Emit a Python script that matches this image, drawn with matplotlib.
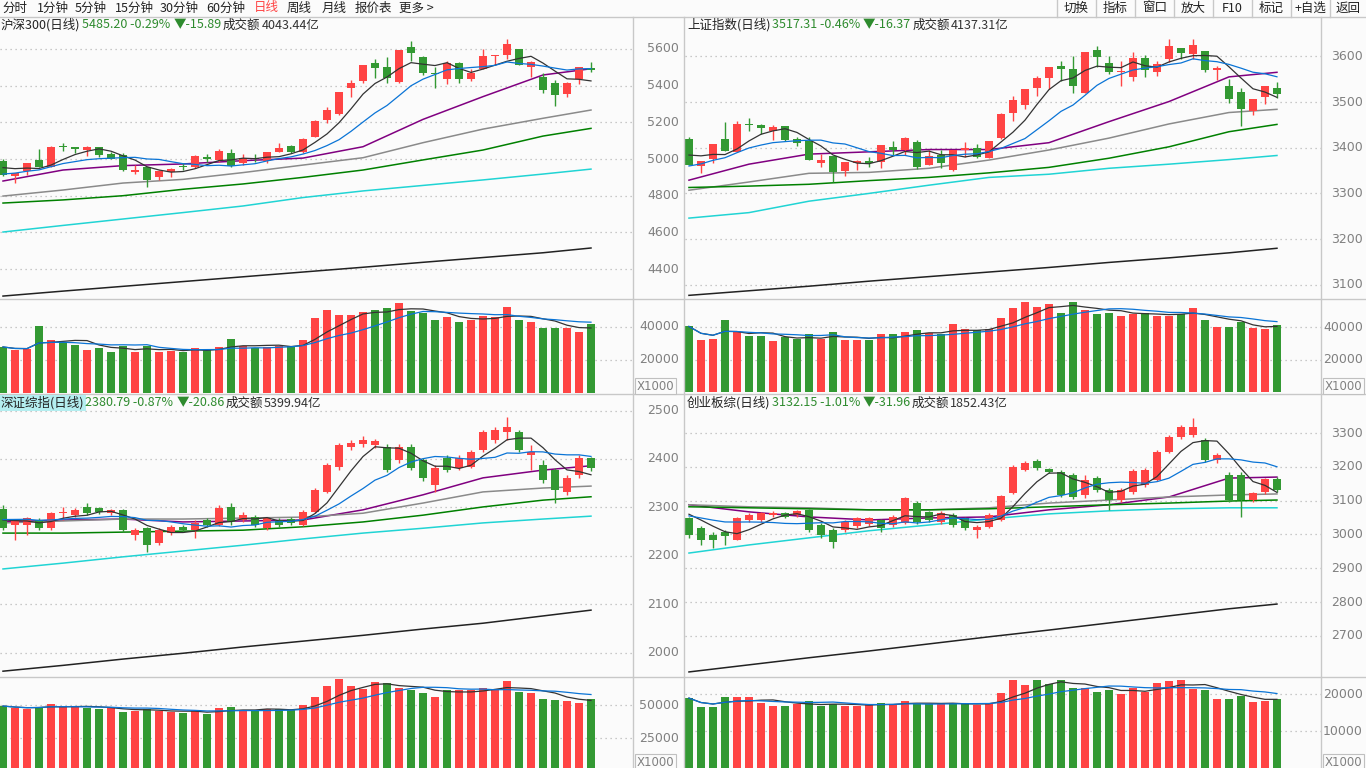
import matplotlib
matplotlib.use("Agg")
import matplotlib.pyplot as plt
import numpy as np
import pandas as pd

plt.rcParams['font.family'] = ['Noto Sans CJK SC', 'DejaVu Sans']

W, H = 1366, 768
RED = '#ff4444'
GREEN = '#339933'
VALG = '#2e8b2e'
GRID = '#b8b8b8'
TICK = '#808080'
LINE = '#c8c8c8'
MA_COLORS = {'ma5': '#333333', 'ma10': '#0a74d6', 'ma20': '#800080', 'ma30': '#8a8a8a',
             'ma60': '#008000', 'ma120': '#20d4d4', 'ma250': '#222222'}

MA_IDX = [0, 5, 10, 15, 20, 25, 30, 35, 40, 45, 49]

# ---------------- data: 沪深300 ----------------
hs_open = [4989, 4909, 4936, 4995, 4958, 5068, 5067, 5049, 5063, 5027, 5020, 4929, 4956, 4904, 4929,
           4960, 4958, 5013, 4995, 5031, 4976, 5005, 4991, 5040, 5071, 5040, 5122, 5213, 5245, 5389,
           5425, 5523, 5501, 5420, 5612, 5556, 5470, 5438, 5521, 5438, 5492, 5561, 5565, 5598, 5503,
           5447, 5416, 5352, 5434, 5496]
hs_high = [5000, 4925, 4980, 5054, 5071, 5085, 5067, 5071, 5067, 5038, 5031, 4967, 4958, 4940, 4953,
           4976, 5022, 5027, 5052, 5054, 5027, 5029, 5040, 5085, 5076, 5113, 5213, 5285, 5365, 5431,
           5512, 5545, 5554, 5594, 5643, 5563, 5503, 5536, 5529, 5490, 5598, 5568, 5652, 5598, 5532,
           5467, 5431, 5422, 5501, 5529]
hs_low = [4909, 4867, 4913, 4958, 4958, 5045, 5035, 5016, 5013, 4998, 4936, 4918, 4849, 4886, 4904,
          4940, 4949, 4985, 4985, 4958, 4967, 4982, 4976, 5040, 5035, 5035, 5122, 5195, 5240, 5340,
          5416, 5443, 5413, 5416, 5536, 5460, 5389, 5407, 5416, 5427, 5489, 5514, 5547, 5510, 5449,
          5362, 5289, 5340, 5407, 5474]
hs_close = [4913, 4922, 4976, 4958, 5065, 5066, 5056, 5067, 5022, 5002, 4940, 4940, 4886, 4933, 4944,
            4956, 5016, 4998, 5045, 4960, 5004, 5002, 5038, 5060, 5038, 5109, 5209, 5267, 5365, 5416,
            5512, 5498, 5443, 5594, 5579, 5470, 5461, 5521, 5438, 5470, 5561, 5568, 5627, 5514, 5529,
            5376, 5350, 5416, 5501, 5485]
hs_pre_close = [4870, 4875, 4885, 4890, 4895, 4950, 4960, 4970, 4972]
hs_vol = [27900, 26100, 26700, 40600, 32100, 30900, 29100, 26100, 27300, 24800, 28500, 24800, 28500,
          24800, 25500, 24800, 27300, 26700, 27900, 32700, 28500, 27300, 27900, 28500, 28500, 32100,
          45500, 50300, 47300, 47300, 49100, 50300, 51500, 54500, 49700, 48500, 44200, 46100, 43000,
          44200, 46700, 46100, 52100, 44200, 43000, 39400, 39400, 39400, 37000, 41800]
hs_ma20 = [4880, 4940, 4964, 4973, 4991, 5005, 5067, 5216, 5340, 5458, 5492]
hs_ma30 = [4798, 4831, 4869, 4889, 4926, 4967, 5007, 5089, 5163, 5222, 5267]
hs_ma60 = [4760, 4777, 4800, 4835, 4864, 4900, 4940, 4995, 5049, 5125, 5167]
hs_ma120 = [4602, 4638, 4673, 4708, 4744, 4790, 4826, 4856, 4886, 4918, 4945]
hs_ma250 = [4253, 4280, 4306, 4332, 4358, 4384, 4410, 4437, 4463, 4489, 4515]

# ---------------- data: 上证指数 ----------------
sh_open = [3419, 3360, 3376, 3419, 3391, 3452, 3450, 3437, 3447, 3419, 3415, 3367, 3382, 3350, 3366,
           3371, 3369, 3402, 3396, 3412, 3362, 3384, 3351, 3396, 3399, 3378, 3422, 3477, 3493, 3531,
           3553, 3579, 3572, 3520, 3614, 3585, 3565, 3555, 3596, 3566, 3594, 3618, 3605, 3612, 3569,
           3535, 3522, 3480, 3512, 3531]
sh_high = [3423, 3371, 3408, 3456, 3458, 3466, 3451, 3450, 3448, 3424, 3423, 3386, 3382, 3369, 3373,
           3380, 3406, 3415, 3424, 3416, 3395, 3395, 3396, 3413, 3408, 3415, 3477, 3513, 3528, 3557,
           3577, 3589, 3600, 3610, 3623, 3600, 3590, 3610, 3603, 3590, 3638, 3618, 3638, 3612, 3579,
           3550, 3531, 3507, 3536, 3544]
sh_low = [3362, 3345, 3366, 3393, 3390, 3437, 3431, 3417, 3415, 3404, 3373, 3358, 3325, 3339, 3351,
          3358, 3356, 3384, 3384, 3354, 3362, 3356, 3349, 3379, 3378, 3378, 3420, 3459, 3485, 3514,
          3528, 3547, 3519, 3519, 3576, 3562, 3535, 3546, 3555, 3557, 3588, 3594, 3594, 3566, 3548,
          3498, 3447, 3472, 3496, 3508]
sh_close = [3362, 3371, 3408, 3393, 3452, 3450, 3444, 3445, 3417, 3411, 3373, 3373, 3347, 3369, 3370,
            3366, 3406, 3396, 3421, 3358, 3382, 3366, 3396, 3397, 3380, 3415, 3474, 3504, 3528, 3552,
            3577, 3572, 3534, 3610, 3599, 3566, 3567, 3596, 3569, 3583, 3623, 3607, 3625, 3571, 3575,
            3507, 3485, 3507, 3535, 3517]
sh_pre_close = [3325, 3330, 3336, 3342, 3347, 3380, 3392, 3395, 3391]
sh_vol = [40600, 32100, 32700, 44800, 37000, 34500, 34500, 31500, 33900, 32700, 35800, 32700, 37000,
          32100, 32100, 32100, 35800, 35800, 37000, 38200, 36400, 35800, 41800, 38800, 38200, 38800,
          46100, 52100, 55800, 52700, 54500, 49100, 55800, 50900, 48500, 49100, 47300, 48500, 49100,
          47300, 47300, 48500, 52100, 44800, 40000, 40000, 43600, 39400, 38800, 41200]
sh_ma20 = [3329, 3364, 3386, 3391, 3396, 3396, 3411, 3457, 3501, 3555, 3565]
sh_ma30 = [3307, 3325, 3344, 3346, 3355, 3373, 3395, 3421, 3452, 3477, 3484]
sh_ma60 = [3313, 3316, 3320, 3328, 3335, 3345, 3357, 3377, 3402, 3435, 3451]
sh_ma120 = [3246, 3258, 3283, 3300, 3318, 3335, 3342, 3355, 3364, 3374, 3383]
sh_ma250 = [3077, 3087, 3097, 3108, 3118, 3128, 3138, 3149, 3159, 3170, 3180]

# ---------------- data: 深证综指 ----------------
sz_open = [2297, 2264, 2264, 2274, 2257, 2288, 2284, 2301, 2299, 2288, 2295, 2243, 2257, 2226, 2247,
           2260, 2253, 2274, 2264, 2301, 2274, 2280, 2257, 2274, 2276, 2264, 2291, 2332, 2383, 2425,
           2431, 2429, 2425, 2398, 2425, 2398, 2346, 2402, 2381, 2383, 2419, 2439, 2456, 2456, 2408,
           2388, 2377, 2332, 2366, 2402]
sz_high = [2305, 2276, 2280, 2278, 2291, 2301, 2299, 2309, 2301, 2297, 2297, 2257, 2260, 2257, 2264,
           2264, 2274, 2278, 2305, 2309, 2290, 2284, 2280, 2278, 2280, 2295, 2340, 2392, 2433, 2439,
           2448, 2441, 2431, 2431, 2431, 2402, 2388, 2408, 2408, 2419, 2460, 2466, 2487, 2460, 2429,
           2398, 2381, 2366, 2408, 2404]
sz_low = [2253, 2233, 2243, 2253, 2253, 2274, 2280, 2284, 2286, 2284, 2250, 2233, 2208, 2222, 2243,
          2250, 2237, 2260, 2262, 2264, 2270, 2260, 2253, 2260, 2264, 2262, 2288, 2330, 2377, 2419,
          2425, 2423, 2373, 2392, 2377, 2355, 2332, 2373, 2377, 2381, 2414, 2433, 2439, 2414, 2377,
          2350, 2309, 2325, 2361, 2375]
sz_close = [2257, 2274, 2278, 2257, 2288, 2291, 2295, 2288, 2291, 2295, 2253, 2253, 2222, 2253, 2260,
            2253, 2268, 2264, 2299, 2270, 2284, 2264, 2278, 2264, 2268, 2291, 2336, 2388, 2429, 2433,
            2439, 2437, 2377, 2425, 2381, 2361, 2381, 2377, 2402, 2414, 2456, 2460, 2466, 2419, 2414,
            2357, 2336, 2361, 2402, 2381]
sz_pre_close = [2272, 2275, 2278, 2280, 2275, 2280, 2282, 2276, 2275]
sz_vol = [49200, 47700, 47000, 48500, 50800, 49200, 48500, 47700, 47000, 47700, 44700, 45500, 47000,
          45500, 44700, 44000, 45500, 43200, 47700, 48500, 46200, 45500, 47000, 47000, 46200, 50000,
          56100, 64400, 69700, 64400, 62100, 67400, 66700, 62900, 61400, 59100, 56100, 61400, 61400,
          61400, 62900, 62100, 68200, 59800, 59100, 54500, 53800, 53000, 51500, 54500]
sz_ma20 = [2270, 2274, 2276, 2270, 2272, 2274, 2295, 2326, 2361, 2377, 2386]
sz_ma30 = [2268, 2272, 2276, 2276, 2278, 2280, 2288, 2309, 2332, 2340, 2344]
sz_ma60 = [2247, 2247, 2249, 2251, 2253, 2260, 2270, 2284, 2301, 2315, 2322]
sz_ma120 = [2173, 2185, 2198, 2210, 2222, 2235, 2247, 2257, 2268, 2276, 2282]
sz_ma250 = [1962, 1974, 1987, 1999, 2012, 2024, 2036, 2049, 2061, 2076, 2088]

# ---------------- data: 创业板综 ----------------
cy_open = [3049, 3019, 2999, 3007, 2984, 3043, 3043, 3058, 3064, 3058, 3073, 3028, 3013, 3013, 3025,
           3031, 3043, 3028, 3034, 3093, 3067, 3037, 3058, 3049, 3013, 3022, 3043, 3123, 3191, 3218,
           3194, 3185, 3176, 3117, 3167, 3132, 3102, 3126, 3147, 3162, 3244, 3289, 3295, 3280, 3221,
           3176, 3176, 3102, 3126, 3164]
cy_high = [3052, 3025, 3007, 3013, 3052, 3064, 3067, 3070, 3067, 3073, 3076, 3034, 3019, 3043, 3052,
           3052, 3046, 3058, 3111, 3099, 3070, 3070, 3064, 3052, 3028, 3064, 3117, 3206, 3218, 3224,
           3197, 3191, 3182, 3176, 3173, 3138, 3138, 3194, 3197, 3250, 3295, 3324, 3345, 3286, 3240,
           3185, 3185, 3126, 3167, 3170]
cy_low = [2990, 2969, 2960, 2969, 2984, 3037, 3037, 3052, 3049, 3052, 3007, 2990, 2960, 3007, 3019,
          3025, 3007, 3022, 3031, 3031, 3037, 3031, 3022, 3013, 2990, 3019, 3040, 3120, 3188, 3191,
          3182, 3111, 3105, 3108, 3126, 3073, 3096, 3120, 3140, 3158, 3240, 3283, 3290, 3215, 3212,
          3096, 3052, 3096, 3120, 3126]
cy_close = [2999, 2984, 2984, 2996, 3049, 3058, 3064, 3064, 3052, 3070, 3013, 2999, 2978, 3037, 3049,
            3049, 3019, 3052, 3108, 3037, 3043, 3064, 3028, 3019, 3022, 3058, 3114, 3200, 3212, 3197,
            3185, 3117, 3111, 3162, 3132, 3102, 3132, 3188, 3191, 3244, 3289, 3318, 3318, 3221, 3236,
            3102, 3102, 3123, 3164, 3132]
cy_pre_close = [3045, 3048, 3050, 3052, 3055, 3070, 3075, 3078, 3078]
cy_vol = [18900, 16500, 16500, 19200, 19200, 19200, 17600, 16800, 16800, 17300, 18100, 16800, 17300,
          16800, 16800, 17300, 17600, 17300, 18100, 17300, 17300, 17300, 17600, 17300, 17000, 17600,
          20300, 23800, 22400, 23800, 22700, 23800, 21600, 21600, 20500, 21100, 20000, 21600, 20500,
          23000, 23500, 23800, 21400, 21100, 18700, 18700, 19500, 17800, 18100, 18700]
cy_ma20 = [3088, 3067, 3052, 3043, 3049, 3052, 3073, 3088, 3111, 3167, 3170]
cy_ma30 = [3088, 3082, 3079, 3073, 3073, 3079, 3093, 3102, 3111, 3117, 3120]
cy_ma60 = [3082, 3079, 3076, 3073, 3073, 3076, 3082, 3088, 3093, 3099, 3102]
cy_ma120 = [2945, 2969, 2990, 3011, 3028, 3046, 3061, 3070, 3076, 3079, 3079]
cy_ma250 = [2593, 2614, 2635, 2655, 2676, 2697, 2717, 2738, 2759, 2780, 2794]

# ---------------- layout helpers ----------------
fig = plt.figure(figsize=(W / 100, H / 100), dpi=100, facecolor='#fbfbfb')


def px_axes(x0, y0, x1, y1):
    ax = fig.add_axes([x0 / W, 1 - y1 / H, (x1 - x0) / W, (y1 - y0) / H])
    ax.set_facecolor('#fbfbfb')
    for s in ax.spines.values():
        s.set_visible(False)
    ax.set_xticks([])
    ax.set_yticks([])
    return ax


def fig_line(x0, y0, x1, y1, color=LINE, lw=1.0):
    fig.add_artist(plt.Line2D([x0 / W, x1 / W], [1 - y0 / H, 1 - y1 / H], color=color, lw=lw,
                              transform=fig.transFigure))


def fig_text(x, y, s, color='#333333', size=9, ha='left', **kw):
    fig.text(x / W, 1 - y / H, s, color=color, fontsize=size, ha=ha, va='center', **kw)


def rolling(vals, pre, n):
    s = pd.Series(list(pre) + list(vals), dtype=float)
    return s.rolling(n, min_periods=1).mean().to_numpy()[len(pre):]


def y_labels(ax, ticks, right_px, width_px):
    for t in ticks:
        ax.axhline(t, color=GRID, lw=0.9, ls=(0, (1, 3)), zorder=0)
        ax.text(1 + right_px / width_px, t, str(t), transform=ax.get_yaxis_transform(),
                ha='right', va='center', color=TICK, fontsize=9, family='DejaVu Sans', clip_on=False)


def price_panel(ax, o, h, l, c, pre, mas, ticks, ylim, xlim, right_px, width_px):
    x = np.arange(len(o))
    o, h, l, c = map(np.asarray, (o, h, l, c))
    col = np.where(c >= o, RED, GREEN)
    ax.vlines(x, l, h, colors=col, lw=1.0, zorder=3)
    span = ylim[1] - ylim[0]
    body = np.maximum(np.abs(c - o), span * 0.004)
    ax.bar(x, body, bottom=np.minimum(o, c), width=0.64, color=col, lw=0, zorder=3)
    ax.plot(x, rolling(c, pre, 5), color=MA_COLORS['ma5'], lw=0.9, zorder=4)
    ax.plot(x, rolling(c, pre, 10), color=MA_COLORS['ma10'], lw=0.9, zorder=4)
    for key, vals in mas.items():
        ax.plot(MA_IDX, vals, color=MA_COLORS[key], lw=1.1, zorder=2)
    ax.set_xlim(*xlim)
    ax.set_ylim(*ylim)
    y_labels(ax, ticks, right_px, width_px)


def vol_panel(ax, o, c, v, ticks, ylim, xlim, right_px, width_px):
    x = np.arange(len(v))
    col = np.where(np.asarray(c) >= np.asarray(o), RED, GREEN)
    ax.bar(x, v, width=0.64, color=col, lw=0, zorder=3)
    ax.plot(x, rolling(v, [], 5), color='#333333', lw=0.9, zorder=4)
    ax.plot(x, rolling(v, [], 10), color=MA_COLORS['ma10'], lw=0.9, zorder=4)
    ax.set_xlim(*xlim)
    ax.set_ylim(*ylim)
    y_labels(ax, ticks, right_px, width_px)


# ---------------- panels ----------------
LX = (-0.25, 52.5)
RX = (-0.33, 52.67)

ax = px_axes(0, 17, 633, 299)
price_panel(ax, hs_open, hs_high, hs_low, hs_close, hs_pre_close,
            {'ma20': hs_ma20, 'ma30': hs_ma30, 'ma60': hs_ma60, 'ma120': hs_ma120, 'ma250': hs_ma250},
            [4400, 4600, 4800, 5000, 5200, 5400, 5600], (4237, 5774), LX, 46, 633)
ax = px_axes(0, 299, 633, 393)
vol_panel(ax, hs_open, hs_close, hs_vol, [20000, 40000], (0, 56960), LX, 46, 633)

ax = px_axes(685, 17, 1321, 299)
price_panel(ax, sh_open, sh_high, sh_low, sh_close, sh_pre_close,
            {'ma20': sh_ma20, 'ma30': sh_ma30, 'ma60': sh_ma60, 'ma120': sh_ma120, 'ma250': sh_ma250},
            [3100, 3200, 3300, 3400, 3500, 3600], (3069, 3686), RX, 42, 636)
ax = px_axes(685, 299, 1321, 393)
vol_panel(ax, sh_open, sh_close, sh_vol, [20000, 40000], (-600, 57570), RX, 42, 636)

ax = px_axes(0, 395, 633, 677)
price_panel(ax, sz_open, sz_high, sz_low, sz_close, sz_pre_close,
            {'ma20': sz_ma20, 'ma30': sz_ma30, 'ma60': sz_ma60, 'ma120': sz_ma120, 'ma250': sz_ma250},
            [2000, 2100, 2200, 2300, 2400, 2500], (1950, 2532), LX, 46, 633)
ax = px_axes(0, 677, 633, 768)
vol_panel(ax, sz_open, sz_close, sz_vol, [25000, 50000], (2273, 71214), LX, 46, 633)

ax = px_axes(685, 395, 1321, 677)
price_panel(ax, cy_open, cy_high, cy_low, cy_close, cy_pre_close,
            {'ma20': cy_ma20, 'ma30': cy_ma30, 'ma60': cy_ma60, 'ma120': cy_ma120, 'ma250': cy_ma250},
            [2700, 2800, 2900, 3000, 3100, 3200, 3300], (2578, 3413), RX, 42, 636)
ax = px_axes(685, 677, 1321, 768)
vol_panel(ax, cy_open, cy_close, cy_vol, [10000, 20000], (0, 24600), RX, 42, 636)

# ---------------- frame lines ----------------
fig_line(0, 17, W, 17)
for xx in (633, 684, 1321):
    fig_line(xx, 17, xx, H)
for yy in (299, 677):
    fig_line(0, yy, W, yy)
fig_line(0, 394, W, 394)

# X1000 boxes
for bx, by in ((634, 386), (1322, 386), (634, 762), (1322, 762)):
    fig_text(bx + 3, by, 'X1000', color=TICK, size=8.5, family='DejaVu Sans',
             bbox=dict(boxstyle='square,pad=0.15', fc='#fbfbfb', ec='#c0c0c0', lw=0.8))

# ---------------- toolbar ----------------
tabs = [('分时', 2), ('1分钟', 37), ('5分钟', 75), ('15分钟', 115), ('30分钟', 160), ('60分钟', 206),
        ('日线', 254), ('周线', 287), ('月线', 322), ('报价表', 355), ('更多 >', 399)]
for name, tx in tabs:
    fig_text(tx, 8, name, color=RED if name == '日线' else '#222222', size=9)
btns = ['切换', '指标', '窗口', '放大', 'F10', '标记', '+自选', '返回']
edges = [1057, 1096, 1135, 1174, 1213, 1252, 1291, 1330, 1366]
for i, b in enumerate(btns):
    fig_line(edges[i], 0, edges[i], 17)
    fig_text((edges[i] + edges[i + 1]) / 2, 8, b, color='#222222', size=9, ha='center')

# ---------------- titles ----------------
titles = [
    (25, [('沪深300(日线)', 1, '#222222'), ('5485.20 -0.29%', 82, VALG), ('▼-15.89', 174, VALG),
          ('成交额', 223, '#222222'), ('4043.44亿', 262, '#333333')]),
    (25, [('上证指数(日线)', 687, '#222222'), ('3517.31 -0.46%', 772, VALG), ('▼-16.37', 863, VALG),
          ('成交额', 913, '#222222'), ('4137.31亿', 951, '#333333')]),
    (403, [('深证综指(日线)', 1, '#222222'), ('2380.79 -0.87%', 85, VALG), ('▼-20.86', 177, VALG),
           ('成交额', 226, '#222222'), ('5399.94亿', 264, '#333333')]),
    (403, [('创业板综(日线)', 687, '#222222'), ('3132.15 -1.01%', 772, VALG), ('▼-31.96', 863, VALG),
           ('成交额', 912, '#222222'), ('1852.43亿', 950, '#333333')]),
]
for ty, parts in titles:
    for s, tx, c in parts:
        kw = {}
        if s == '深证综指(日线)':
            kw['bbox'] = dict(boxstyle='square,pad=0.1', fc='#b4eef0', ec='none')
        fig_text(tx, ty, s, color=c, size=9, **kw)

fig.savefig('out.png', dpi=100, facecolor=fig.get_facecolor())
